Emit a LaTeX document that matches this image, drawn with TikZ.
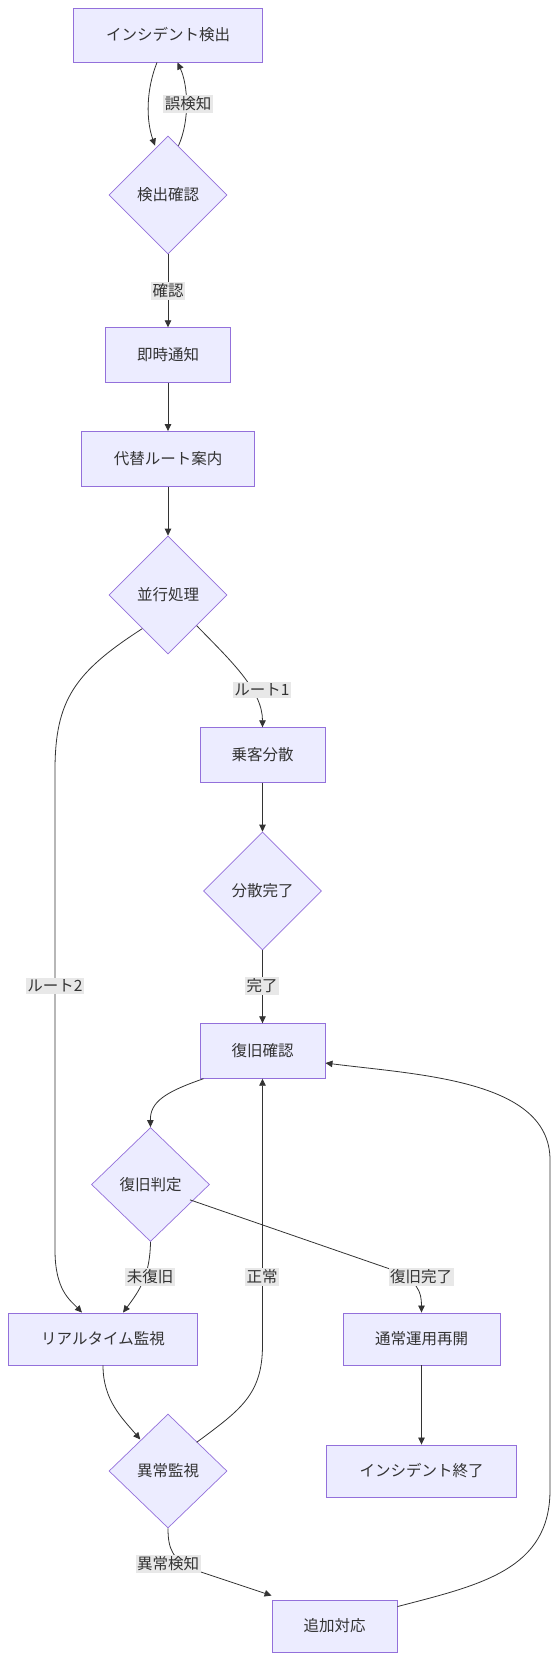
\documentclass[tikz,border=0pt]{standalone}
\usepackage{fontspec}
\setmainfont{Noto Sans CJK JP}
\usetikzlibrary{shapes.geometric,arrows.meta,calc}
\definecolor{nodefill}{HTML}{ECECFF}
\definecolor{nodeline}{HTML}{9370DB}
\definecolor{edgecol}{HTML}{333333}
\definecolor{lblfill}{HTML}{E8E8E8}
\tikzset{
  boxnode/.style={draw=nodeline, fill=nodefill, line width=0.9pt, rectangle, inner sep=0pt, text=edgecol, font=\fontsize{15.5}{17}\selectfont},
  dianode/.style={draw=nodeline, fill=nodefill, line width=0.7pt, diamond, shape aspect=1, inner sep=0pt, minimum width=118pt, minimum height=118pt, text=edgecol, font=\fontsize{15.5}{17}\selectfont},
  edge/.style={draw=edgecol, line width=0.8pt, -{Triangle[length=7pt,width=6.5pt]}},
  lbl/.style={fill=lblfill, inner sep=1.5pt, text=edgecol, font=\fontsize{15.5}{17}\selectfont}
}
\begin{document}
\begin{tikzpicture}[x=1pt,y=-1pt]
\useasboundingbox (0,0) rectangle (556,1678);
\node[boxnode, minimum width=189.5pt, minimum height=54pt] (det) at (168,35) {インシデント検出};
\node[dianode] (chk) at (168,195) {検出確認};
\node[boxnode, minimum width=125pt, minimum height=54.5pt] (notify) at (168,355) {即時通知};
\node[boxnode, minimum width=173pt, minimum height=55pt] (alt) at (168,459) {代替ルート案内};
\node[dianode] (par) at (168,595) {並行処理};
\node[boxnode, minimum width=125pt, minimum height=54.5pt] (disp) at (262.5,755) {乗客分散};
\node[dianode] (dispdone) at (262.5,891) {分散完了};
\node[boxnode, minimum width=125pt, minimum height=54.5pt] (rec) at (262.5,1051) {復旧確認};
\node[dianode, minimum height=114pt] (judge) at (150.5,1184.5) {復旧判定};
\node[boxnode, minimum width=189.5pt, minimum height=52pt] (rt) at (103,1339) {リアルタイム監視};
\node[boxnode, minimum width=157pt, minimum height=52pt] (resume) at (421.5,1339) {通常運用再開};
\node[boxnode, minimum width=189.5pt, minimum height=52pt] (fin) at (421.5,1471) {インシデント終了};
\node[dianode, minimum height=114pt] (anom) at (168,1471) {異常監視};
\node[boxnode, minimum width=125pt, minimum height=52pt] (extra) at (334.5,1626) {追加対応};

% det <-> chk
\draw[edge] ([xshift=-11pt]det.south) .. controls (146,90) and (146,120) .. ([xshift=-13pt,yshift=-10pt]chk.north);
\draw[edge] ([xshift=10.5pt,yshift=-10pt]chk.north) .. controls (190,120) and (188,85) .. ([xshift=9.5pt]det.south);
\node[lbl] (l1) at (188,104) {誤検知};
% chk -> notify
\draw[edge] (chk.south) -- (notify.north);
\node[lbl] (l2) at (168,291) {確認};
\draw[edge] (notify.south) -- (alt.north);
\draw[edge] (alt.south) -- (par.north);
% par -> disp
\draw[edge] ([xshift=-1pt,yshift=-1pt]$(par.east)!0.5!(par.south)$) .. controls (230,660) and (262.5,690) .. (disp.north);
\node[lbl] (l3) at (262,690) {ルート1};
% par -> rt
\draw[edge] ([xshift=1pt,yshift=-1pt]$(par.west)!0.55!(par.south)$) .. controls (75,672) and (55,700) .. (55,770) -- (55,1250) .. controls (55,1290) and (70,1300) .. ([xshift=-21pt]rt.north);
\node[lbl] (l4) at (55,986) {ルート2};
% disp -> dispdone -> rec
\draw[edge] (disp.south) -- (dispdone.north);
\draw[edge] (dispdone.south) -- (rec.north);
\node[lbl] (l5) at (262,986) {完了};
% rec -> judge
\draw[edge] ([xshift=-59pt]rec.south) .. controls (165,1092) and (150,1102) .. (judge.north);
% judge -> rt
\draw[edge] (judge.south) .. controls (150,1275) and (140,1290) .. ([xshift=20pt]rt.north);
\node[lbl] (l6) at (150,1277) {未復旧};
% judge -> resume
\draw[edge] ([xshift=-5pt,yshift=-1pt]$(judge.east)!0.25!(judge.south)$) -- (390,1269) .. controls (418,1280) and (421.5,1292) .. (resume.north);
\node[lbl] (l7) at (421,1277) {復旧完了};
% rt -> anom
\draw[edge] (rt.south) .. controls (103,1400) and (122,1418) .. ([xshift=-1pt]$(anom.north)!0.45!(anom.west)$);
% anom -> rec
\draw[edge] ([xshift=-1pt]$(anom.north)!0.5!(anom.east)$) .. controls (240,1410) and (262.5,1395) .. (262.5,1345) -- (rec.south);
\node[lbl] (l8) at (262,1277) {正常};
% resume -> fin
\draw[edge] (resume.south) -- (fin.north);
% anom -> extra
\draw[edge] (anom.south) .. controls (168,1548) and (172,1560) .. (195,1570) -- ([yshift=4pt]extra.north west);
\node[lbl] (l9) at (168,1564) {異常検知};
% extra -> rec
\draw[edge] ([yshift=-7pt]extra.north east) .. controls (480,1585) and (550,1570) .. (550,1490) -- (550,1160) .. controls (550,1080) and (420,1075) .. ([yshift=-12pt]rec.east);
\end{tikzpicture}
\end{document}
